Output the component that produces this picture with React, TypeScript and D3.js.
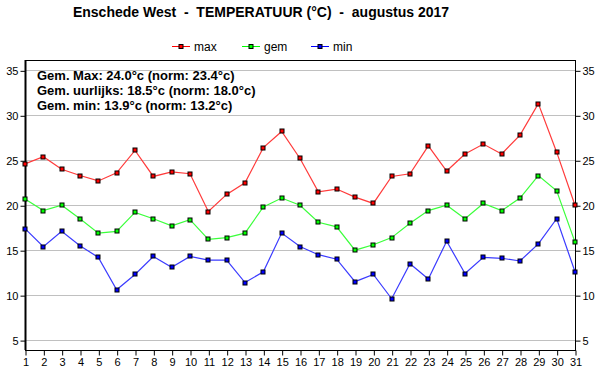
import { useRef, useEffect } from "react";
import * as d3 from "d3";

// days of August 2017
const days = d3.range(1, 32);

// daily temperatures (°C)
const maxTemp = [24.6, 25.4, 24.0, 23.3, 22.7, 23.6, 26.1, 23.2, 23.7, 23.5, 19.3, 21.2, 22.5, 26.4, 28.2, 25.2,
  21.5, 21.8, 20.9, 20.2, 23.2, 23.5, 26.6, 23.8, 25.7, 26.8, 25.7, 27.8, 31.3, 25.9, 20.0];
const gemTemp = [20.7, 19.4, 20.0, 18.5, 16.9, 17.1, 19.2, 18.5, 17.7, 18.4, 16.2, 16.4, 16.9, 19.8, 20.8, 20.0,
  18.1, 17.6, 15.0, 15.6, 16.4, 18.0, 19.4, 20.0, 18.5, 20.2, 19.4, 20.8, 23.3, 21.6, 15.9];
const minTemp = [17.4, 15.4, 17.1, 15.5, 14.2, 10.6, 12.3, 14.3, 13.1, 14.3, 13.9, 13.9, 11.4, 12.6, 16.9, 15.4,
  14.5, 14.0, 11.5, 12.3, 9.6, 13.5, 11.8, 16.0, 12.4, 14.2, 14.1, 13.8, 15.7, 18.5, 12.6];

const seriesNames = ["max", "gem", "min"];
const lineColors = ["#ff3b3b", "#3bff3b", "#3b3bff"];
const markColors = ["#ff0000", "#00ff00", "#0000ff"];
const yTicks = [5, 10, 15, 20, 25, 30, 35];

const summary = [
  "Gem. Max: 24.0°c (norm: 23.4°c)",
  "Gem. uurlijks: 18.5°c (norm: 18.0°c)",
  "Gem. min: 13.9°c (norm: 13.2°c)",
];

const W = 600, H = 390;
const font = "'Liberation Sans', Arial, sans-serif";

export default function App() {
  const ref = useRef<SVGSVGElement>(null);

  useEffect(() => {
    const svg = d3.select(ref.current);
    svg.selectAll("*").remove();

    const left = 25, right = 575, top = 60, bottom = 350;

    const x = d3.scaleLinear().domain([1, 31]).range([left, right]);
    const y = d3.scaleLinear().domain([3.9, 36.15]).range([bottom, top]);

    // title
    svg.append("text")
      .attr("x", 261).attr("y", 17)
      .attr("text-anchor", "middle")
      .style("white-space", "pre")
      .attr("font-family", font).attr("font-weight", "bold").attr("font-size", 14)
      .text("Enschede West  -  TEMPERATUUR (°C)  -  augustus 2017");

    // legend
    const legX = [172, 242, 311];
    seriesNames.forEach((name, i) => {
      const g = svg.append("g").attr("transform", `translate(${legX[i]},46)`);
      g.append("line").attr("x1", 0).attr("x2", 18).attr("y1", 0.5).attr("y2", 0.5)
        .attr("stroke", markColors[i]).attr("stroke-width", 1);
      g.append("rect").attr("x", 7).attr("y", -1.5).attr("width", 4).attr("height", 4)
        .attr("fill", markColors[i]).attr("stroke", "#000").attr("stroke-width", 1);
      g.append("text").attr("x", 22).attr("y", 5)
        .attr("font-family", font).attr("font-size", 12).text(name);
    });

    // gridlines
    svg.append("g").selectAll("line").data(yTicks).join("line")
      .attr("x1", left).attr("x2", right)
      .attr("y1", d => Math.round(y(d)) + 0.5).attr("y2", d => Math.round(y(d)) + 0.5)
      .attr("stroke", "#c0c0c0");

    // axes
    const yLeft = d3.axisLeft(y).tickValues(yTicks).tickSize(5).tickPadding(2);
    const yRight = d3.axisRight(y).tickValues(yTicks).tickSize(5).tickPadding(2);
    const xAxis = d3.axisBottom(x).tickValues(days).tickSize(5).tickPadding(3).tickFormat(d3.format("d"));

    const styleAxis = (g: any) => {
      g.select(".domain").remove();
      g.selectAll("line").attr("stroke", "#000");
      g.selectAll("text").attr("font-family", font).attr("font-size", 11).attr("fill", "#000");
    };
    svg.append("g").attr("transform", `translate(${left + 0.5},0.5)`).call(yLeft).call(styleAxis);
    svg.append("g").attr("transform", `translate(${right + 0.5},0.5)`).call(yRight).call(styleAxis);
    svg.append("g").attr("transform", `translate(0.5,${bottom + 0.5})`).call(xAxis).call(styleAxis);

    // frame
    svg.append("rect")
      .attr("x", left + 0.5).attr("y", top + 0.5)
      .attr("width", right - left).attr("height", bottom - top)
      .attr("fill", "none").attr("stroke", "#000").attr("stroke-width", 1);
    svg.append("line").attr("x1", left + 0.5).attr("x2", left + 0.5).attr("y1", top).attr("y2", bottom)
      .attr("stroke", "#000").attr("stroke-width", 2);

    // series
    const allSeries = [maxTemp, gemTemp, minTemp];
    const line = d3.line<number>().x((_, i) => x(days[i])).y(d => y(d));
    allSeries.forEach((vals, s) => {
      svg.append("path").datum(vals)
        .attr("d", line).attr("fill", "none")
        .attr("stroke", lineColors[s]).attr("stroke-width", 1.2);
      svg.append("g").selectAll("rect").data(vals).join("rect")
        .attr("x", (_, i) => Math.round(x(days[i])) - 2)
        .attr("y", d => Math.round(y(d)) - 2)
        .attr("width", 4).attr("height", 4)
        .attr("fill", markColors[s]).attr("stroke", "#000").attr("stroke-width", 1);
    });

    // summary text box
    svg.append("g").selectAll("text").data(summary).join("text")
      .attr("x", 37).attr("y", (_, i) => 80 + i * 15)
      .attr("font-family", font).attr("font-weight", "bold").attr("font-size", 13)
      .text(d => d);
  }, []);

  return (
    <svg ref={ref} width={W} height={H}
      style={{ position: "absolute", left: 0, top: 0, background: "#fff" }} />
  );
}
